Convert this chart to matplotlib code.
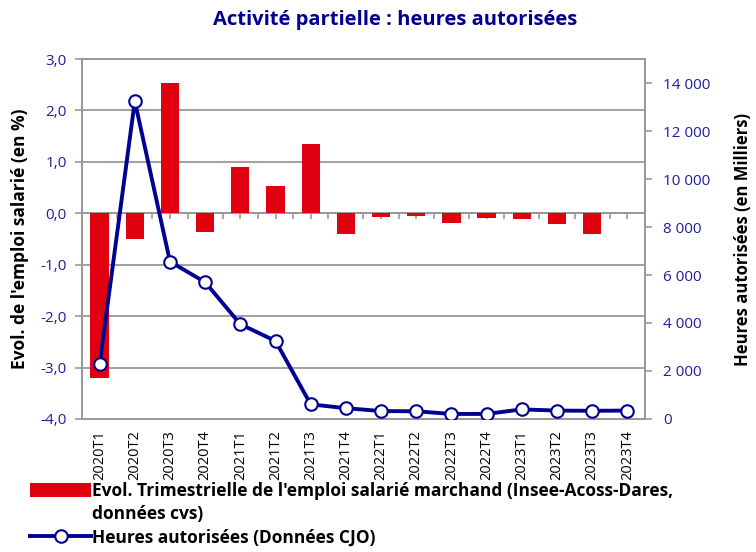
import numpy as np
import matplotlib
matplotlib.use('Agg')
import matplotlib.pyplot as plt
from matplotlib.lines import Line2D
from matplotlib.patches import Patch

# =============================================================================
# Data
# =============================================================================

quarters = ['2020T1', '2020T2', '2020T3', '2020T4',
            '2021T1', '2021T2', '2021T3', '2021T4',
            '2022T1', '2022T2', '2022T3', '2022T4',
            '2023T1', '2023T2', '2023T3', '2023T4']

# quarterly change of private-sector salaried employment (%)
emploi_evol = [-3.2, -0.49, 2.53, -0.36,
               0.91, 0.53, 1.34, -0.40,
               -0.08, -0.06, -0.18, -0.09,
               -0.11, -0.21, -0.41, np.nan]

# authorised hours (thousands)
heures = [2280, 13250, 6560, 5700,
          3950, 3250, 610, 450,
          330, 320, 210, 210,
          400, 350, 340, 350]

left_ticks = [-4, -3, -2, -1, 0, 1, 2, 3]
left_labels = ['-4,0', '-3,0', '-2,0', '-1,0', '0,0', '1,0', '2,0', '3,0']
right_ticks = [0, 2000, 4000, 6000, 8000, 10000, 12000, 14000]
right_labels = ['0', '2 000', '4 000', '6 000', '8 000', '10 000', '12 000', '14 000']

# =============================================================================
# Style
# =============================================================================

plt.rcParams['font.family'] = ['Open Sans', 'DejaVu Sans']

RED = '#E1000F'
NAVY = '#000091'
TICK_BLUE = '#1F1F99'
GRAY = '#999999'

fig = plt.figure(figsize=(7.56, 5.52), dpi=100)
ax = fig.add_axes([0.1085, 0.241, 0.7445, 0.652])
ax2 = ax.twinx()

x = np.arange(len(quarters))

# bars (left axis)
ax.bar(x, emploi_evol, width=0.52, color=RED, zorder=3)
ax.set_xlim(-0.5, len(quarters) - 0.5)
ax.set_ylim(-4, 3)
ax.set_yticks(left_ticks)
ax.set_yticklabels(left_labels, color=TICK_BLUE, fontsize=11)
ax.grid(axis='y', color=GRAY, linewidth=1.3, zorder=0)
ax.set_axisbelow(True)
ax.set_xticks(x)
ax.set_xticklabels(quarters, rotation=90, fontsize=10.5, color='black')
ax.tick_params(axis='x', length=0, pad=8)
ax.tick_params(axis='y', length=5, width=1.2, color=GRAY, pad=6)
for sp in ax.spines.values():
    sp.set_color(GRAY)
    sp.set_linewidth(1.3)
ax.set_ylabel("Evol. de l'emploi salarié (en %)", fontsize=12.5,
              fontweight='bold', labelpad=8)

# zero line with small ticks at category centres and boundaries
zero_ax = ax.secondary_xaxis(0, transform=ax.transData)
zero_ax.spines['bottom'].set_color(GRAY)
zero_ax.spines['bottom'].set_linewidth(1.3)
zero_ax.set_xticks(np.arange(-0.5, len(quarters) - 0.4, 0.5))
zero_ax.tick_params(axis='x', length=4, width=1.2, color=GRAY, labelbottom=False)

# line (right axis)
ax2.plot(x, heures, color=NAVY, linewidth=2.8, marker='o', markersize=9,
         markerfacecolor='white', markeredgecolor=NAVY, markeredgewidth=1.5,
         zorder=5)
ax2.set_ylim(0, 15000)
ax2.set_yticks(right_ticks)
ax2.set_yticklabels(right_labels, color=TICK_BLUE, fontsize=11)
ax2.tick_params(axis='y', length=5, width=1.2, color=GRAY, pad=8)
for sp in ax2.spines.values():
    sp.set_color(GRAY)
    sp.set_linewidth(1.3)
ax2.set_ylabel('Heures autorisées (en Milliers)', fontsize=12,
               fontweight='bold', labelpad=17)

fig.text(0.523, 0.963, 'Activité partielle : heures autorisées', ha='center',
         va='center', fontsize=14.5, fontweight='bold', color=NAVY)

# legend: the long label wraps, so its second line is a handle-less entry
handles = [
    Patch(facecolor=RED, edgecolor='none'),
    Line2D([], [], color='none'),
    Line2D([], [], color=NAVY, linewidth=2.8, marker='o', markersize=9,
           markerfacecolor='white', markeredgecolor=NAVY, markeredgewidth=1.5),
]
labels = ["Evol. Trimestrielle de l'emploi salarié marchand (Insee-Acoss-Dares,",
          'données cvs)',
          'Heures autorisées (Données CJO)']
fig.legend(handles, labels, loc='lower left', bbox_to_anchor=(0.024, -0.012),
           frameon=False, prop={'weight': 'bold', 'size': 12.5},
           handlelength=3.5, handleheight=0.9, handletextpad=0.05,
           labelspacing=0.3, borderpad=0.2)

plt.savefig('out.png', dpi=100)
